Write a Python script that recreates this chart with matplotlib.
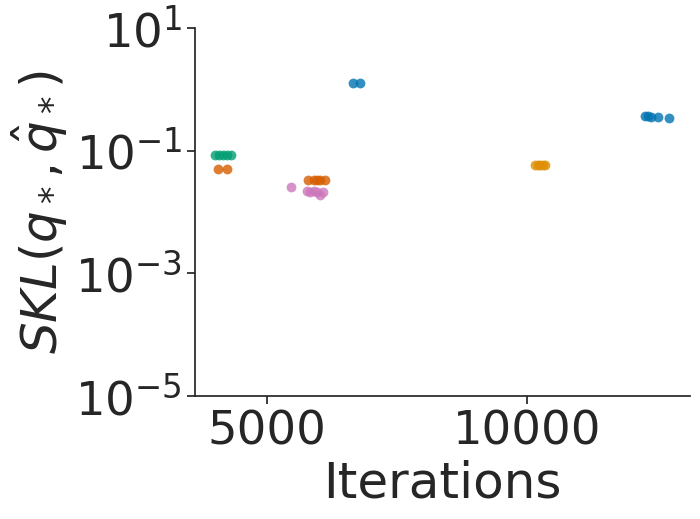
import matplotlib
matplotlib.use("Agg")
import matplotlib.pyplot as plt
import seaborn as sns

sns.set_theme(style="ticks")
pal = sns.color_palette("colorblind")

# one group of runs per method: iterations and SKL
green_iters = [4000, 4080, 4150, 4230, 4300]
green_skl = [0.085, 0.085, 0.085, 0.085, 0.085]

red_iters = [4060, 4230]
red_skl = [0.05, 0.05]

pink_iters = [5460, 5770, 5830, 5900, 5960, 6020, 6080]
pink_skl = [0.026, 0.022, 0.021, 0.022, 0.021, 0.019, 0.021]

red2_iters = [5790, 5900, 5960, 6020, 6115]
red2_skl = [0.033, 0.033, 0.033, 0.033, 0.033]

blue_iters = [6650, 6790]
blue_skl = [1.27, 1.27]

orange_iters = [10150, 10200, 10250, 10300, 10340]
orange_skl = [0.058, 0.058, 0.058, 0.058, 0.058]

blue2_iters = [12270, 12330, 12380, 12520, 12720]
blue2_skl = [0.37, 0.37, 0.36, 0.36, 0.34]

groups = [
    (green_iters, green_skl, pal[2]),
    (red_iters, red_skl, pal[3]),
    (pink_iters, pink_skl, pal[4]),
    (red2_iters, red2_skl, pal[3]),
    (blue_iters, blue_skl, pal[0]),
    (orange_iters, orange_skl, pal[1]),
    (blue2_iters, blue2_skl, pal[0]),
]

fig = plt.figure(figsize=(7, 5.19), dpi=100)
ax = fig.add_axes([0.279, 0.237, 0.707, 0.709])

for xs, ys, c in groups:
    ax.scatter(xs, ys, s=50, color=c, alpha=0.8, linewidth=0)

ax.set_yscale("log")
ax.set_ylim(1e-5, 1e1)
ax.set_yticks([1e-5, 1e-3, 1e-1, 1e1])
ax.minorticks_off()
ax.set_xlim(3615, 13135)
ax.set_xticks([5000, 10000])

ax.tick_params(labelsize=33.5, colors="#262626", width=1.25, length=6)
for s in ["left", "bottom"]:
    ax.spines[s].set_linewidth(1.25)
    ax.spines[s].set_color("#262626")
sns.despine(ax=ax)

ax.set_xlabel("Iterations", fontsize=36, color="#262626")
ax.set_ylabel(r"$SKL(q_*, \hat{q}_*)$", fontsize=36, color="#262626")

plt.savefig("out.png", dpi=100)
